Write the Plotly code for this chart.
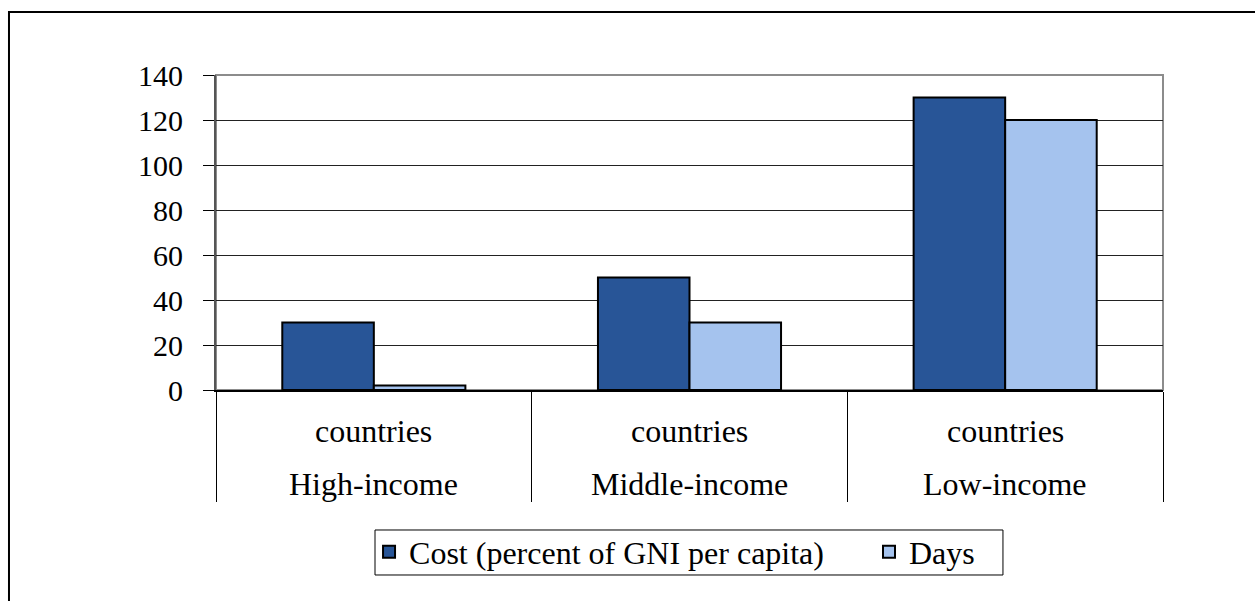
import plotly.graph_objects as go

categories = ["High-income", "Middle-income", "Low-income"]
line1 = ["countries", "countries", "countries"]
cost = [30, 50, 130]
days = [2, 30, 120]
series_names = ["Cost (percent of GNI per capita)\u00a0\u00a0\u00a0\u00a0\u00a0", "Days"]
colors = ["#285597", "#A5C3EE"]
FONT = "Liberation Serif"
FS = 32

fig = go.Figure()
for name, vals, col in zip(series_names, [cost, days], colors):
    fig.add_trace(go.Bar(x=categories, y=vals, name=name,
                         marker=dict(color=col, line=dict(color="black", width=2))))

fig.update_layout(
    width=1255, height=601,
    margin=dict(l=216, r=92, t=75, b=211, autoexpand=False),
    paper_bgcolor="white", plot_bgcolor="white",
    barmode="group", bargap=0.42, bargroupgap=0,
    font=dict(family=FONT, size=FS, color="black"),
    showlegend=True,
    legend=dict(orientation="h", x=0.1616, xanchor="left", y=-0.514, yanchor="middle",
                borderwidth=0, bgcolor="rgba(0,0,0,0)", font=dict(family=FONT, size=FS),
                itemsizing="constant", traceorder="normal"),
)
fig.update_yaxes(range=[0, 140], dtick=20, showgrid=True, gridcolor="#222222", gridwidth=1,
                 ticks="outside", ticklen=11, tickcolor="black", showline=True,
                 linecolor="#555555", linewidth=2, zeroline=False,
                 tickfont=dict(family=FONT, size=30), ticklabelstandoff=14)
fig.update_xaxes(showticklabels=False, ticks="outside", tickson="boundaries",
                 ticklen=110, tickcolor="black", tickwidth=1, showline=True,
                 linecolor="black", linewidth=2)

# plot-area border (gray, top/right)
fig.add_shape(type="rect", xref="paper", yref="paper", x0=0, x1=1, y0=0, y1=1,
              line=dict(color="#8c8c8c", width=2), layer="below")
# outer chart border
fig.add_shape(type="rect", xref="paper", yref="paper", x0=-0.2186, x1=1.2, y0=-0.75, y1=1.2,
              line=dict(color="black", width=2))
# legend box
fig.add_shape(type="rect", xref="paper", yref="paper", x0=0.1679, x1=0.8310, y0=-0.5873, y1=-0.4444,
              line=dict(color="black", width=1))

for c, l1 in zip(categories, line1):
    fig.add_annotation(x=c, y=-0.131, xref="x", yref="paper", text=l1, showarrow=False,
                       yanchor="middle", font=dict(family=FONT, size=FS))
    fig.add_annotation(x=c, y=-0.299, xref="x", yref="paper", text=c, showarrow=False,
                       yanchor="middle", font=dict(family=FONT, size=FS))

fig.write_html("out.html")
